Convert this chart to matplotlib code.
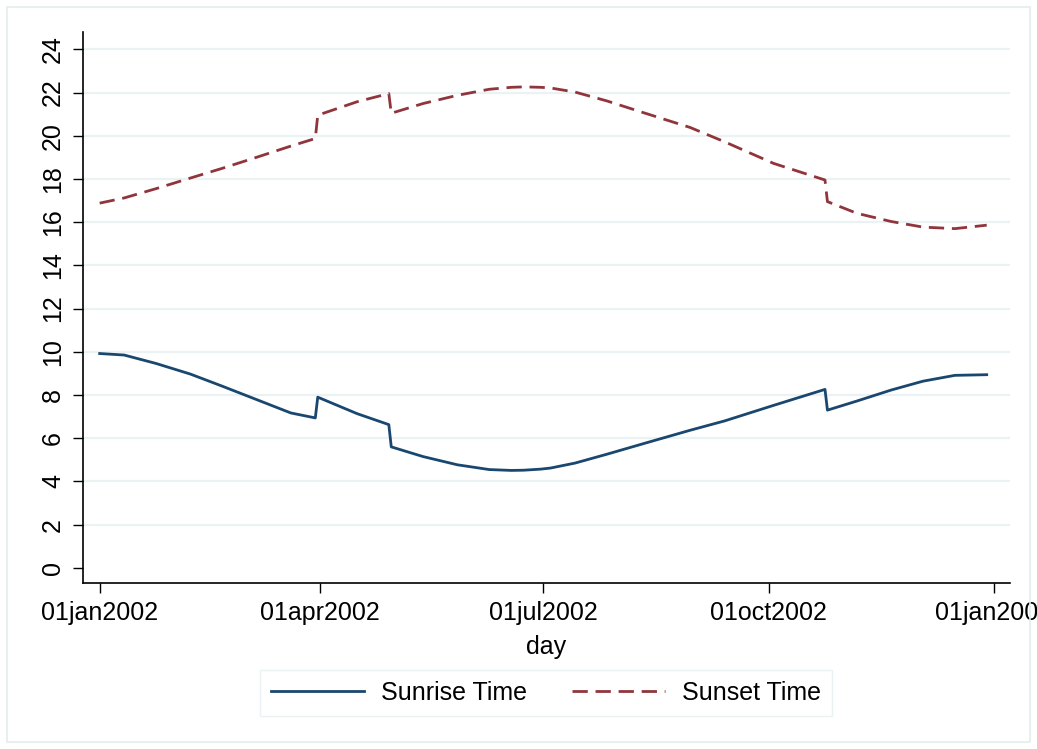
import numpy as np
import pandas as pd
import matplotlib
matplotlib.use('Agg')
import matplotlib.pyplot as plt
import matplotlib.dates as mdates
from matplotlib.patches import Rectangle

# ── Data (hours of day) ────────────────────────────────────────────
DATES = [
    "2002-01-01", "2002-01-11", "2002-01-24", "2002-02-07", "2002-02-20",
    "2002-03-06", "2002-03-20", "2002-03-30", "2002-03-31", "2002-04-16",
    "2002-04-29", "2002-04-30", "2002-05-13", "2002-05-27", "2002-06-09",
    "2002-06-18", "2002-06-23", "2002-06-30", "2002-07-04", "2002-07-14",
    "2002-07-27", "2002-08-10", "2002-08-30", "2002-09-13", "2002-10-03",
    "2002-10-24", "2002-10-25", "2002-11-06", "2002-11-20", "2002-12-03",
    "2002-12-16", "2002-12-29",
]
SUNRISE = [
    9.92, 9.85, 9.46, 8.97, 8.41,
    7.79, 7.17, 6.94, 7.90, 7.14,
    6.63, 5.60, 5.15, 4.77, 4.55,
    4.51, 4.52, 4.57, 4.62, 4.85,
    5.26, 5.72, 6.37, 6.80, 7.52,
    8.26, 7.30, 7.72, 8.23, 8.64,
    8.91, 8.94,
]
SUNSET = [
    16.88, 17.12, 17.55, 18.04, 18.49,
    19.00, 19.52, 19.87, 20.95, 21.57,
    21.95, 21.04, 21.49, 21.87, 22.15,
    22.24, 22.26, 22.24, 22.21, 22.02,
    21.61, 21.10, 20.38, 19.72, 18.72,
    17.95, 16.95, 16.41, 16.03, 15.77,
    15.70, 15.86,
]
XTICKS = ["2002-01-01", "2002-04-01", "2002-07-01", "2002-10-01", "2003-01-01"]
YTICKS = list(range(0, 25, 2))

NAVY   = "#1a476f"
MAROON = "#90353b"
GRID   = "#eaf2f3"

plt.rcParams.update({
    'font.family': ['Liberation Sans', 'DejaVu Sans'],
    'font.size': 18,
})

day = pd.to_datetime(DATES)

fig = plt.figure(figsize=(10.37, 7.49), dpi=100)
fig.patches.append(Rectangle((7 / 1037, 7 / 749), 1023 / 1037, 735 / 749,
                             transform=fig.transFigure, fill=False,
                             edgecolor="#e4ecef", lw=1.2))
ax = fig.add_axes([83 / 1037, 1 - 583 / 749, 927 / 1037, 551 / 749])

ax.plot(day, SUNRISE, color=NAVY, lw=2.0, label="Sunrise Time")
ax.plot(day, SUNSET, color=MAROON, lw=2.0, dashes=(5.5, 2.8), label="Sunset Time")

t0 = mdates.date2num(pd.Timestamp("2002-01-01"))
ax.set_xlim(t0 - 6.8, t0 + 371.5)
ax.set_ylim(-0.7, 24.8)

ax.set_yticks(YTICKS)
ax.set_yticklabels([str(v) for v in YTICKS], rotation=90, va='center')
ax.set_xticks(pd.to_datetime(XTICKS))
ax.xaxis.set_major_formatter(
    plt.FuncFormatter(lambda x, pos: mdates.num2date(x).strftime('%d%b%Y').lower()))
ax.tick_params(length=7, width=1, direction='out', pad=6, colors='black')

for y in YTICKS[1:]:
    ax.axhline(y, color=GRID, lw=1.6, zorder=0)

for s in ('top', 'right'):
    ax.spines[s].set_visible(False)
ax.spines['left'].set_linewidth(1.2)
ax.spines['bottom'].set_linewidth(1.2)

ax.set_xlabel("day", labelpad=7)

fig.legend(loc='center', bbox_to_anchor=(546 / 1037, 1 - 693 / 749), ncol=2,
           fancybox=False, edgecolor=GRID, framealpha=1,
           handlelength=3.7, handletextpad=0.7, columnspacing=1.8,
           borderpad=0.45)

fig.savefig("out.png", dpi=100)
